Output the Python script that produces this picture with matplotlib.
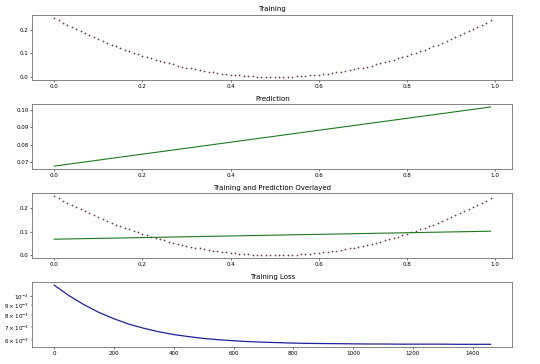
import numpy as np
import matplotlib.pyplot as plt

# training samples (x in steps of 0.01, y)
train_x = [0.00, 0.01, 0.02, 0.03, 0.04, 0.05, 0.06, 0.07, 0.08, 0.09,
           0.10, 0.11, 0.12, 0.13, 0.14, 0.15, 0.16, 0.17, 0.18, 0.19,
           0.20, 0.21, 0.22, 0.23, 0.24, 0.25, 0.26, 0.27, 0.28, 0.29,
           0.30, 0.31, 0.32, 0.33, 0.34, 0.35, 0.36, 0.37, 0.38, 0.39,
           0.40, 0.41, 0.42, 0.43, 0.44, 0.45, 0.46, 0.47, 0.48, 0.49,
           0.50, 0.51, 0.52, 0.53, 0.54, 0.55, 0.56, 0.57, 0.58, 0.59,
           0.60, 0.61, 0.62, 0.63, 0.64, 0.65, 0.66, 0.67, 0.68, 0.69,
           0.70, 0.71, 0.72, 0.73, 0.74, 0.75, 0.76, 0.77, 0.78, 0.79,
           0.80, 0.81, 0.82, 0.83, 0.84, 0.85, 0.86, 0.87, 0.88, 0.89,
           0.90, 0.91, 0.92, 0.93, 0.94, 0.95, 0.96, 0.97, 0.98, 0.99]
train_y = [0.2500, 0.2401, 0.2304, 0.2209, 0.2116, 0.2025, 0.1936, 0.1849, 0.1764, 0.1681,
           0.1600, 0.1521, 0.1444, 0.1369, 0.1296, 0.1225, 0.1156, 0.1089, 0.1024, 0.0961,
           0.0900, 0.0841, 0.0784, 0.0729, 0.0676, 0.0625, 0.0576, 0.0529, 0.0484, 0.0441,
           0.0400, 0.0361, 0.0324, 0.0289, 0.0256, 0.0225, 0.0196, 0.0169, 0.0144, 0.0121,
           0.0100, 0.0081, 0.0064, 0.0049, 0.0036, 0.0025, 0.0016, 0.0009, 0.0004, 0.0001,
           0.0000, 0.0001, 0.0004, 0.0009, 0.0016, 0.0025, 0.0036, 0.0049, 0.0064, 0.0081,
           0.0100, 0.0121, 0.0144, 0.0169, 0.0196, 0.0225, 0.0256, 0.0289, 0.0324, 0.0361,
           0.0400, 0.0441, 0.0484, 0.0529, 0.0576, 0.0625, 0.0676, 0.0729, 0.0784, 0.0841,
           0.0900, 0.0961, 0.1024, 0.1089, 0.1156, 0.1225, 0.1296, 0.1369, 0.1444, 0.1521,
           0.1600, 0.1681, 0.1764, 0.1849, 0.1936, 0.2025, 0.2116, 0.2209, 0.2304, 0.2401]

# model prediction (straight line)
pred_x = [0.00, 0.99]
pred_y = [0.0677, 0.1015]

# training loss per epoch
loss_epoch = [0, 50, 100, 150, 200, 250, 300, 350, 400, 450, 500, 550, 600, 650, 700,
              750, 800, 850, 900, 950, 1000, 1050, 1100, 1150, 1200, 1250, 1300, 1350,
              1400, 1460]
loss_val = [0.01132, 0.01002, 0.00903, 0.00826, 0.00768, 0.00722, 0.00688, 0.00661,
            0.00640, 0.00625, 0.00612, 0.00603, 0.00596, 0.00590, 0.00586, 0.00583,
            0.00580, 0.00578, 0.00577, 0.00576, 0.00575, 0.00574, 0.00574, 0.00573,
            0.00573, 0.00573, 0.00573, 0.00572, 0.00572, 0.00572]

TICK = 4.1
TITLE = 5.0


def style(ax, title):
    ax.set_title(title, fontsize=TITLE, pad=2.5)
    ax.tick_params(labelsize=TICK, length=1.6, width=0.4, pad=1.2)
    ax.tick_params(which='minor', labelsize=TICK, length=0.9, width=0.3, pad=1.2)
    for s in ax.spines.values():
        s.set_linewidth(0.5)
        s.set_color('#555555')


def dots(ax):
    ax.plot(train_x, train_y, linestyle='none', marker='.', markersize=1.8,
            markerfacecolor='#c02030', markeredgecolor='#404040', markeredgewidth=0.3)


def main():
    fig, axes = plt.subplots(4, 1, figsize=(5.4, 3.64), dpi=100)
    fig.subplots_adjust(left=0.06, right=0.949, top=0.959, bottom=0.046, hspace=0.37)

    ax = axes[0]
    dots(ax)
    ax.set_yticks([0.0, 0.1, 0.2])
    style(ax, 'Training')

    ax = axes[1]
    ax.plot(pred_x, pred_y, color='#1f7a1f', linewidth=0.8)
    ax.set_yticks([0.07, 0.08, 0.09, 0.10])
    style(ax, 'Prediction')

    ax = axes[2]
    dots(ax)
    ax.plot(pred_x, pred_y, color='#1f7a1f', linewidth=0.8)
    ax.set_yticks([0.0, 0.1, 0.2])
    style(ax, 'Training and Prediction Overlayed')

    ax = axes[3]
    ax.plot(loss_epoch, loss_val, color='#20209a', linewidth=0.9)
    ax.set_yscale('log')
    style(ax, 'Training Loss')

    for a in axes[:3]:
        a.set_xticks([0.0, 0.2, 0.4, 0.6, 0.8, 1.0])

    fig.savefig('out.png', dpi=100)


if __name__ == '__main__':
    main()
